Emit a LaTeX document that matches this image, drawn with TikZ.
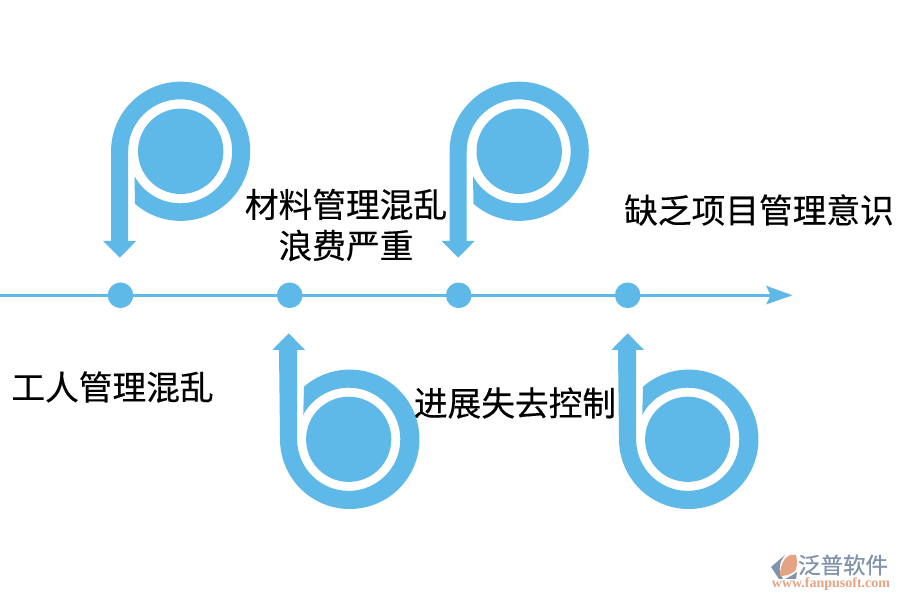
\documentclass[tikz,border=0pt]{standalone}
\usepackage{fontspec}
\setmainfont{Liberation Serif}
\newfontfamily\cjk[FakeBold=0.35]{Noto Sans CJK SC}
\newfontfamily\cjklogo[FakeBold=0.6]{Noto Sans CJK SC}
\definecolor{skyb}{RGB}{94,184,232}
\definecolor{logog}{RGB}{128,146,172}
\definecolor{logoo}{RGB}{228,164,132}
\tikzset{
 lbl/.style={font=\cjk\fontsize{33.7}{41}\selectfont,text=black,inner sep=0pt,align=center},
 dot/.style={circle,fill=skyb,minimum size=25.6pt,inner sep=0pt},
 pshape/.pic={
  \fill[skyb] (0,-42.7) arc (-90:270:42.7);
  \fill[skyb] (-61,-106.4) -- (-44.5,-89.7) -- (-52.5,-89.7) -- (-52.5,0)
     arc (180:-151.5:52) -- (-45.7,-52.5) arc (-131:180:69.6) -- (-69.6,-89.7) -- (-77.5,-89.7) -- cycle;
 },
 bshape/.pic={
  \fill[skyb] (0,-42.6) arc (-90:270:42.6);
  \fill[skyb] (-60,106) -- (-43.7,89.3) -- (-51.6,89.3) -- (-51.6,0)
     arc (-180:151.8:51.6) -- (-44.7,52.6) arc (131:-180:69.7) -- (-69.7,89.3) -- (-76.4,89.3) -- cycle;
 }
}
\begin{document}
\begin{tikzpicture}[x=1pt,y=1pt]
\useasboundingbox (0,0) rectangle (900,600);
\fill[white] (0,0) rectangle (900,600);
\coordinate (start) at (0,304.7);
\coordinate (headback) at (771,304.7);
\fill[skyb] (792.3,304.7) -- (766,314.3) -- (770.7,304.7) -- (766,295.5) -- cycle;
\draw[skyb,line width=3.4pt] (start) -- (headback);
\node[dot] (d1) at (120.5,304.7) {};
\node[dot] (d2) at (289.7,304.7) {};
\node[dot] (d3) at (458.7,304.7) {};
\node[dot] (d4) at (627.7,304.7) {};
\pic at (180.7,448.7) {pshape};
\pic at (519.2,448.7) {pshape};
\pic at (348.7,160.7) {bshape};
\pic at (687.7,160.7) {bshape};
\node[lbl] (t1) at (112.5,213) {工人管理混乱};
\node[lbl] (t2) at (346,375) {材料管理混乱\\浪费严重};
\node[lbl] (t3) at (515,197) {进展失去控制};
\node[lbl] (t4) at (759,390) {缺乏项目管理意识};
% logo mark
\fill[logog] (785,45) -- (771,33) -- (779,21) -- (783,21) .. controls (777,30) and (780,39) .. (785,45) -- cycle;
\fill[logog] (785,21) -- (796,21) -- (797,28) .. controls (793,25) and (789,23) .. (785,21) -- cycle;
\fill[logoo] (780,24) .. controls (780,36) and (785,43) .. (790,45) -- (796,45) .. controls (798,38) and (797,33) .. (795,29) .. controls (790,25) and (785,24) .. (780,24) -- cycle;
\node[inner sep=0pt,text=logog,font=\cjklogo\fontsize{22.5}{24}\selectfont] (logo) at (843,35) {泛普软件};
\node[inner sep=0pt,text=logoo,font=\bfseries\fontsize{14}{15}\selectfont] (url) at (831,16) {www.fanpusoft.com};
\end{tikzpicture}
\end{document}
